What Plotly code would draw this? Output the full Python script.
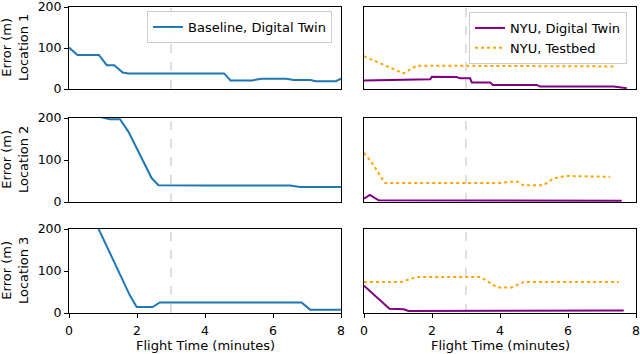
import plotly.graph_objects as go

# ---------------- data ----------------
baseline_loc1_t = [0, 0.25, 0.88, 1.11, 1.33, 1.58, 1.75, 4.56, 4.75, 5.38, 5.66, 6.4, 6.6, 7.1, 7.26, 7.85, 8.0]
baseline_loc1_e = [101, 83, 83, 58, 58, 40, 38, 38, 21, 21, 25, 25, 22, 22, 19, 19, 25]

baseline_loc2_t = [0, 0.9, 1.2, 1.5, 1.75, 2.43, 2.63, 3.8, 4.0, 6.5, 6.8, 8.0]
baseline_loc2_e = [260, 203, 197, 197, 167, 57, 40, 38, 39, 39, 36, 36]

baseline_loc3_t = [0, 0.88, 1.79, 1.99, 2.46, 2.67, 6.84, 7.09, 8.0]
baseline_loc3_e = [350, 200, 42, 14, 14, 25, 25, 8, 8]

nyu_dt_loc1_t = [0, 1.95, 2.0, 2.73, 2.83, 3.12, 3.17, 3.71, 3.79, 5.08, 5.18, 7.34, 7.73]
nyu_dt_loc1_e = [21, 24, 30, 29, 26, 26, 16, 16, 10, 10, 6, 6, 2]
nyu_tb_loc1_t = [0, 1.16, 1.56, 7.34]
nyu_tb_loc1_e = [80, 38, 57, 55]

nyu_dt_loc2_t = [0, 0.17, 0.43, 7.58]
nyu_dt_loc2_e = [8, 17, 4, 3]
nyu_tb_loc2_t = [0, 0.22, 0.47, 0.62, 3.99, 4.28, 4.54, 4.68, 5.28, 5.57, 5.92, 7.24]
nyu_tb_loc2_e = [117, 95, 63, 45, 45, 48, 48, 40, 40, 56, 62, 60]

nyu_dt_loc3_t = [0, 0.75, 1.17, 1.31, 7.64]
nyu_dt_loc3_e = [65, 10, 9, 5, 6]
nyu_tb_loc3_t = [0, 1.1, 1.55, 3.42, 3.72, 3.91, 4.35, 4.7, 7.49]
nyu_tb_loc3_e = [74, 74, 86, 86, 71, 61, 61, 74, 74]

locations = ["Location 1", "Location 2", "Location 3"]
event_time = 3
x_ticks = [0, 2, 4, 6, 8]
y_ticks = [0, 100, 200]

# ---------------- styling ----------------
FONT = "DejaVu Sans"
BLUE = "#1f77b4"
PURPLE = "#800080"
ORANGE = "#FFA500"
W, H = 640, 354

left_dom = [69 / W, 341 / W]
right_dom = [364 / W, 636 / W]
row_px = [(7, 89), (118, 202), (229, 313)]
row_dom = [[1 - b / H, 1 - t / H] for (t, b) in row_px]

fig = go.Figure()

baseline = [(baseline_loc1_t, baseline_loc1_e), (baseline_loc2_t, baseline_loc2_e), (baseline_loc3_t, baseline_loc3_e)]
nyu_dt = [(nyu_dt_loc1_t, nyu_dt_loc1_e), (nyu_dt_loc2_t, nyu_dt_loc2_e), (nyu_dt_loc3_t, nyu_dt_loc3_e)]
nyu_tb = [(nyu_tb_loc1_t, nyu_tb_loc1_e), (nyu_tb_loc2_t, nyu_tb_loc2_e), (nyu_tb_loc3_t, nyu_tb_loc3_e)]

layout = {}
shapes = []
annotations = []
for r in range(3):
    li = 2 * r + 1
    ri = 2 * r + 2
    lx = "x" if li == 1 else f"x{li}"
    ly = "y" if li == 1 else f"y{li}"
    rx = f"x{ri}"
    ry = f"y{ri}"
    bottom = (r == 2)

    fig.add_trace(go.Scatter(x=baseline[r][0], y=baseline[r][1], mode="lines",
                             line=dict(color=BLUE, width=2), name="Baseline, Digital Twin",
                             showlegend=(r == 0), legend="legend", xaxis=lx, yaxis=ly))
    fig.add_trace(go.Scatter(x=nyu_dt[r][0], y=nyu_dt[r][1], mode="lines",
                             line=dict(color=PURPLE, width=2), name="NYU, Digital Twin",
                             showlegend=(r == 0), legend="legend2", xaxis=rx, yaxis=ry))
    fig.add_trace(go.Scatter(x=nyu_tb[r][0], y=nyu_tb[r][1], mode="lines",
                             line=dict(color=ORANGE, width=2, dash="dot"), name="NYU, Testbed",
                             showlegend=(r == 0), legend="legend2", xaxis=rx, yaxis=ry))

    common = dict(showline=True, mirror=True, linecolor="black", linewidth=1,
                  showgrid=False, zeroline=False, automargin=False,
                  ticklabeloverflow="allow",
                  tickfont=dict(family=FONT, size=12.5, color="black"),
                  tickcolor="black", ticklen=4, tickwidth=1)

    for axname, dom, is_left in [(lx, left_dom, True), (rx, right_dom, False)]:
        key = "xaxis" if axname == "x" else "xaxis" + axname[1:]
        layout[key] = dict(common, domain=dom, range=[0, 8],
                           anchor=(ly if is_left else ry),
                           tickvals=x_ticks,
                           ticks=("outside" if bottom else ""),
                           showticklabels=bottom,
                           ticklabelstandoff=2)
    for axname, is_left in [(ly, True), (ry, False)]:
        key = "yaxis" if axname == "y" else "yaxis" + axname[1:]
        layout[key] = dict(common, domain=row_dom[r], range=[0, 200],
                           anchor=(lx if is_left else rx),
                           tickvals=y_ticks,
                           ticks=("outside" if is_left else ""),
                           showticklabels=is_left)

    for xa, ya in [(lx, ly), (rx, ry)]:
        shapes.append(dict(type="line", xref=xa, yref=f"{ya} domain",
                           x0=event_time, x1=event_time, y0=0, y1=1,
                           line=dict(color="#d3d3d3", width=1.5, dash="dash"),
                           layer="below"))

    annotations.append(dict(text=f"Error (m)<br>{locations[r]}", xref="paper", yref="paper",
                            x=15 / W, y=(row_dom[r][0] + row_dom[r][1]) / 2,
                            xanchor="center", yanchor="middle", textangle=-90,
                            showarrow=False, font=dict(family=FONT, size=13, color="black")))

for dom in [left_dom, right_dom]:
    annotations.append(dict(text="Flight Time (minutes)", xref="paper", yref="paper",
                            x=(dom[0] + dom[1]) / 2, y=1 - 345 / H,
                            xanchor="center", yanchor="middle", showarrow=False,
                            font=dict(family=FONT, size=13, color="black")))

legend_style = dict(bgcolor="rgba(255,255,255,0.8)", bordercolor="#cccccc", borderwidth=1,
                    font=dict(family=FONT, size=13, color="black"),
                    xanchor="left", yanchor="top", tracegroupgap=0)

fig.update_layout(**layout)
fig.update_layout(
    width=W, height=H,
    margin=dict(l=0, r=0, t=0, b=0, autoexpand=False),
    paper_bgcolor="white", plot_bgcolor="white",
    font=dict(family=FONT, size=13, color="black"),
    shapes=shapes, annotations=annotations,
    legend=dict(legend_style, x=147 / W, y=1 - 11 / H),
    legend2=dict(legend_style, x=469 / W, y=1 - 12 / H),
)

fig.write_html("out.html", config={"displayModeBar": False},
               post_script="document.body.style.margin='0';document.body.style.padding='0';document.body.style.overflow='hidden';")
